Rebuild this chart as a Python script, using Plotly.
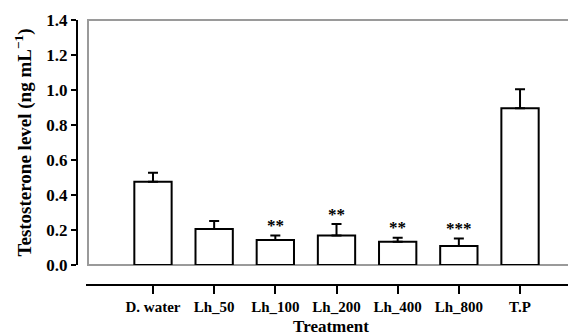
import plotly.graph_objects as go

categories = ["D. water", "Lh_50", "Lh_100", "Lh_200", "Lh_400", "Lh_800", "T.P"]
means = [0.476, 0.206, 0.143, 0.168, 0.133, 0.109, 0.895]
errors = [0.051, 0.045, 0.025, 0.066, 0.023, 0.043, 0.109]
significance = ["", "", "**", "**", "**", "***", ""]

# the page body adds an 8px margin, so the figure is sized to fill the rest of the window
W, H = 568, 328
ml, mr, mt, mb = 69, 0, 12, 51
pw = W - ml - mr
ph = H - mt - mb

FONT = "Liberation Serif"
XMIN, XMAX = -1.095, 6.915
Y0_FRAC = 20 / ph

fig = go.Figure()
fig.add_trace(go.Bar(
    x=list(range(len(categories))), y=means, width=0.61,
    marker=dict(color="white", line=dict(color="black", width=2)),
    error_y=dict(type="data", symmetric=False, array=errors,
                 arrayminus=[0] * len(errors), color="black",
                 thickness=2, width=5),
    showlegend=False,
))

for i, (m, e, s) in enumerate(zip(means, errors, significance)):
    if s:
        fig.add_annotation(x=i, y=m + e, text="<b>" + s + "</b>", showarrow=False,
                           yanchor="middle", yshift=10,
                           font=dict(family=FONT, size=17, color="black"))

# grey frame around the data area (right side runs off the figure)
fig.add_shape(type="rect", xref="paper", yref="paper",
              x0=11 / pw, x1=1.05, y0=Y0_FRAC, y1=1.0,
              line=dict(color="#9a9a9a", width=2), fillcolor="rgba(0,0,0,0)",
              layer="below")

fig.update_layout(
    width=W, height=H,
    margin=dict(l=ml, r=mr, t=mt, b=mb, autoexpand=False),
    plot_bgcolor="rgba(0,0,0,0)", paper_bgcolor="white",
    font=dict(family=FONT, color="black"),
    xaxis=dict(
        domain=[9 / pw, 1], anchor="free", position=0,
        range=[XMIN, XMAX], automargin=False,
        tickmode="array", tickvals=list(range(len(categories))), ticktext=categories,
        showline=True, linecolor="black", linewidth=2,
        ticks="outside", ticklen=8, tickwidth=2, tickcolor="black",
        showgrid=False, zeroline=False,
        tickfont=dict(family=FONT, size=15, weight="bold"),
        title=dict(text="Treatment", font=dict(family=FONT, size=17, weight="bold"), standoff=5),
    ),
    yaxis=dict(
        domain=[Y0_FRAC, 1], anchor="free", position=0,
        range=[0, 1.4], dtick=0.2, tickformat=".1f", automargin=False,
        showline=True, linecolor="black", linewidth=2,
        ticks="outside", ticklen=5, tickwidth=2, tickcolor="black",
        showgrid=False, zeroline=False,
        tickfont=dict(family=FONT, size=17, weight="bold"),
        title=dict(text="Testosterone level (ng mL<sup>\u2212</sup><sup>1</sup>)",
                   font=dict(family=FONT, size=19, weight="bold"), standoff=9),
    ),
)

fig.write_html("out.html")
